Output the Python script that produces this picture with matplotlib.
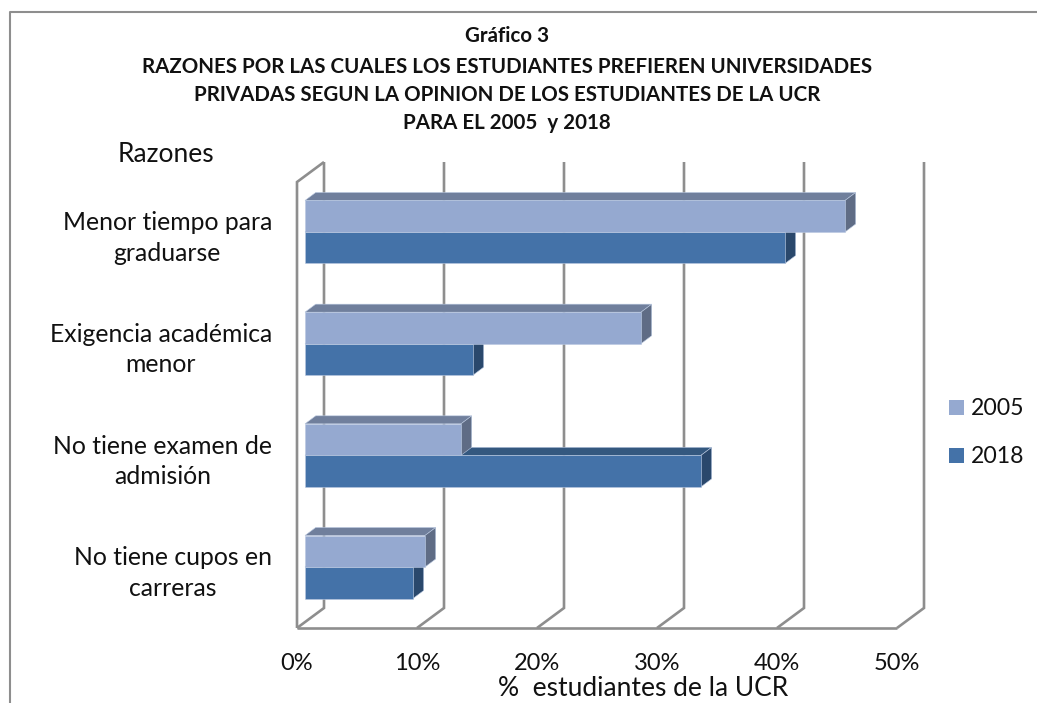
import matplotlib
matplotlib.use('Agg')
import matplotlib.pyplot as plt
from matplotlib.patches import Polygon, Rectangle

W, H = 1037, 703

categories = ['Menor tiempo para\ngraduarse', 'Exigencia académica\nmenor',
              'No tiene examen de\nadmisión', 'No tiene cupos en\ncarreras']
years = ['2005', '2018']
values_2005 = [45, 28, 13, 10]
values_2018 = [40, 14, 33, 9]
ticks = [0, 10, 20, 30, 40, 50]

colors = {'2005': ('#95A9D0', '#707F9C', '#5F6C85'),
          '2018': ('#4472A8', '#34587F', '#2A486C')}
grid_col = '#8E8E8E'

plt.rcParams['font.family'] = ['Lato', 'DejaVu Sans']

fig = plt.figure(figsize=(W / 100, H / 100), dpi=100)

# plot area in pixels, x=0 of the data sits 8px in from the front wall
left, right, top, bottom = 297, 897, 182, 628
ax = fig.add_axes([left / W, 1 - bottom / H, (right - left) / W, (bottom - top) / H])
px_x = 12.0     # px per 1%
px_y = 111.67   # px per category
ax.set_xlim(-8 / px_x, (right - left - 8) / px_x)
y0 = -(bottom - 567) / px_y
ax.set_ylim(y0, y0 + (bottom - top) / px_y)
for s in ax.spines.values():
    s.set_visible(False)
ax.patch.set_visible(False)

# depth of the fake 3D, in data units
wall_dx, wall_dy = 27 / px_x, 20 / px_y
bar_dx, bar_dy = 10.7 / px_x, 8 / px_y
x_front = ax.get_xlim()[0]
y_top = ax.get_ylim()[1]

# walls and gridlines
line = dict(color=grid_col, lw=1.9, clip_on=False, solid_joinstyle='miter', solid_capstyle='butt')
for t in ticks:
    xf = x_front + t
    ax.plot([xf, xf + wall_dx, xf + wall_dx], [y0, y0 + wall_dy, y_top + wall_dy], **line)
ax.plot([x_front, x_front + 50], [y0, y0], **line)
ax.plot([x_front, x_front, x_front + wall_dx], [y0, y_top, y_top + wall_dy], **line)

# bars, 2018 goes first so 2005 side faces sit on top
n = len(categories)
h = 31.5 / px_y
edge = '#B9C8E0'
for year, vals, off in [('2018', values_2018, -h), ('2005', values_2005, 0)]:
    front, top_c, side = colors[year]
    for i, v in enumerate(vals):
        yb = n - 1 - i + off
        yt = yb + h
        ax.add_patch(Polygon([(0, yt), (bar_dx, yt + bar_dy), (v + bar_dx, yt + bar_dy), (v, yt)],
                             fc=top_c, ec=edge, lw=0.4, zorder=3))
        ax.add_patch(Polygon([(v, yb), (v + bar_dx, yb + bar_dy), (v + bar_dx, yt + bar_dy), (v, yt)],
                             fc=side, ec=edge, lw=0.4, zorder=3))
        ax.add_patch(Rectangle((0, yb), v, h, fc=front, ec=edge, lw=0.4, zorder=4))

ax.set_xticks([])
ax.set_yticks([])

for t in ticks:
    ax.text(x_front + t, y0 - 35 / px_y, f'{t}%', ha='center', va='center', fontsize=17, color='#111111')
# labels: block right aligned, lines centred inside it
for i, c in enumerate(categories):
    ax.text(-33 / px_x, n - 1 - i - 6 / px_y, c, ha='right', va='center', multialignment='center',
            fontsize=17.8, color='#111111', linespacing=1.38)

# texts placed in figure pixels
def fig_text(x, y, s, **kw):
    fig.text(x / W, 1 - y / H, s, ha='center', va='center', color='#111111', **kw)

fig_text(507, 36, 'Gráfico 3', fontsize=14.8, fontweight='bold')
fig_text(507, 67, 'RAZONES POR LAS CUALES LOS ESTUDIANTES PREFIEREN UNIVERSIDADES', fontsize=14.8, fontweight='bold')
fig_text(507, 95, 'PRIVADAS SEGUN LA OPINION DE LOS ESTUDIANTES DE LA UCR', fontsize=14.8, fontweight='bold')
fig_text(507, 123, 'PARA EL 2005  y 2018', fontsize=14.8, fontweight='bold')
fig_text(166, 154, 'Razones', fontsize=19)
fig_text(643, 689, '%  estudiantes de la UCR', fontsize=19)

# legend
for y_px, year in zip([407, 455], years):
    fig.add_artist(Rectangle((949 / W, 1 - (y_px + 7.5) / H), 15 / W, 15 / H,
                             transform=fig.transFigure, fc=colors[year][0], ec='none'))
    fig.text(971 / W, 1 - (y_px + 1.5) / H, year, ha='left', va='center', fontsize=16.6, color='#111111')

# chart frame
fig.add_artist(plt.Line2D([10 / W, 10 / W, 1037 / W], [0, 1 - 12 / H, 1 - 12 / H],
                          color=grid_col, lw=1.5, transform=fig.transFigure))

fig.savefig('out.png', dpi=100)
